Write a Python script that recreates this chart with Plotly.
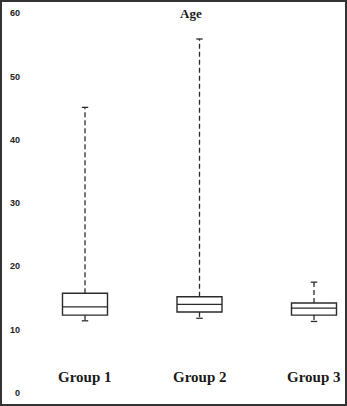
import plotly.graph_objects as go

groups = ["Group 1", "Group 2", "Group 3"]
positions = [1, 2, 3]
lower_whisker = [11.4, 11.8, 11.3]
q1 = [12.3, 12.8, 12.3]
median = [13.6, 14.0, 13.4]
q3 = [15.75, 15.2, 14.2]
upper_whisker = [45.1, 55.9, 17.5]
y_ticks = [0, 10, 20, 30, 40, 50, 60]

W, H = 347, 406
ML, MR, MT, MB = 24, 5, 5, 5
line_col = "#2b2b2b"
box_w = 0.393
cap_half = 0.028

fig = go.Figure()
for i, g in enumerate(groups):
    fig.add_trace(go.Box(
        x=[positions[i]], q1=[q1[i]], median=[median[i]], q3=[q3[i]],
        lowerfence=[q1[i]], upperfence=[q3[i]], width=box_w,
        whiskerwidth=0, fillcolor="white",
        line=dict(color=line_col, width=1.4), boxpoints=False,
        hoverinfo="skip", showlegend=False))
    # dashed whiskers
    for a, b in [(q3[i], upper_whisker[i]), (q1[i], lower_whisker[i])]:
        fig.add_trace(go.Scatter(
            x=[positions[i], positions[i]], y=[a, b], mode="lines",
            line=dict(color=line_col, width=1.3, dash="5px,3px"),
            showlegend=False, hoverinfo="skip"))
    # caps
    for v in [upper_whisker[i], lower_whisker[i]]:
        fig.add_trace(go.Scatter(
            x=[positions[i] - cap_half, positions[i] + cap_half], y=[v, v],
            mode="lines", line=dict(color=line_col, width=1.3),
            showlegend=False, hoverinfo="skip"))
    fig.add_annotation(x=positions[i], y=2.5, xref="x", yref="y", text=g,
                       showarrow=False,
                       font=dict(family="Liberation Serif", size=15,
                                 color="#1a1a1a", weight="bold"))

pw = W - ML - MR
ph = H - MT - MB
fig.add_annotation(x=(191 - ML) / pw, y=1.0 - (14 - MT) / ph,
                   xref="paper", yref="paper", yanchor="middle",
                   text="Age", showarrow=False,
                   font=dict(family="Liberation Serif", size=13,
                             color="#1a1a1a", weight="bold"))

fig.add_shape(type="rect", xref="paper", yref="paper",
              x0=-(ML - 1) / pw, x1=1 + (MR - 1) / pw,
              y0=-(MB - 1) / ph, y1=1 + (MT - 1) / ph,
              line=dict(color="#333333", width=2))

px_per_unit_x = 114.5
x_left = 1 - (85 - ML) / px_per_unit_x
x_right = 3 + ((W - MR) - 314) / px_per_unit_x
px_per_unit_y = 6.333
y_bottom = -((H - MB) - 393) / px_per_unit_y
y_top = (393 - MT) / px_per_unit_y

fig.update_layout(
    width=W, height=H,
    margin=dict(l=ML, r=MR, t=MT, b=MB),
    paper_bgcolor="white", plot_bgcolor="white",
    xaxis=dict(range=[x_left, x_right], showticklabels=False,
               showgrid=False, zeroline=False, showline=False, ticks=""),
    yaxis=dict(range=[y_bottom, y_top], tickvals=y_ticks,
               showgrid=False, zeroline=False, showline=False, ticks="",
               ticklabelstandoff=3,
               tickfont=dict(family="Liberation Sans", size=9,
                             color="#222222", weight="bold")),
)

fig.write_html("out.html")
